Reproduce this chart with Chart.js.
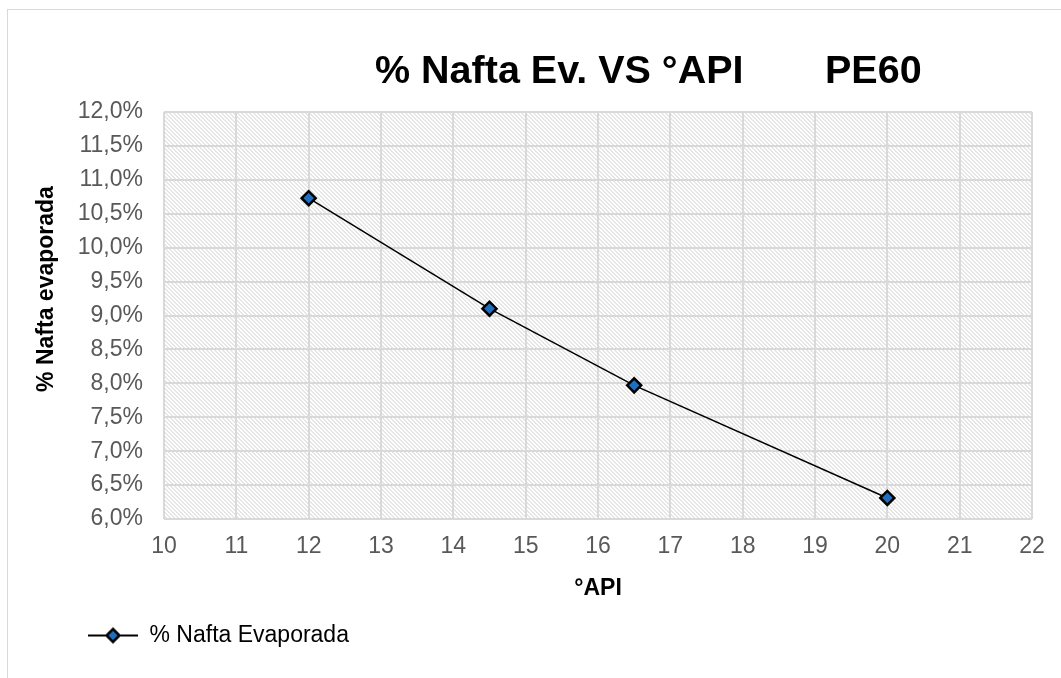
<!DOCTYPE html>
<html><head><meta charset="utf-8">
<script src="https://cdn.jsdelivr.net/npm/chart.js@4.4.0/dist/chart.umd.min.js"></script>
<style>
html,body{margin:0;padding:0;background:#fff;}
#wrap{position:relative;width:1061px;height:678px;}
#frame{position:absolute;left:7px;top:9px;width:1054px;height:669px;border-top:1px solid #d9d9d9;border-left:1px solid #d9d9d9;box-sizing:border-box;pointer-events:none;}
canvas{position:absolute;left:0;top:0;}
</style></head>
<body><div id="wrap"><canvas id="c" width="1061" height="678"></canvas><div id="frame"></div></div>
<script>
const titleMain = "% Nafta Ev. VS °API";
const titleTag = "PE60";
const seriesName = "% Nafta Evaporada";
const xTitle = "°API";
const yTitle = "% Nafta evaporada";
const apiValues = [12, 14.5, 16.5, 20];
const naftaPct = [10.73, 9.10, 7.97, 6.31];
const xMin = 10, xMax = 22, xStep = 1;
const yMin = 6.0, yMax = 12.0, yStep = 0.5;

const FONT = "'Liberation Sans', Arial, sans-serif";
const BLUE = '#1F6FC0';

// hatch pattern
const pc = document.createElement('canvas');
pc.width = 4; pc.height = 4;
const px = pc.getContext('2d');
px.fillStyle = '#ffffff'; px.fillRect(0,0,4,4);
px.fillStyle = '#e6e6e6';
for (let i=0;i<4;i++){ px.fillRect(i,i,1,1); px.fillRect((i+1)%4,i,1,1); }

// legend icon
const ic = document.createElement('canvas');
ic.width = 50; ic.height = 20;
const ix = ic.getContext('2d');
ix.strokeStyle = '#000'; ix.lineWidth = 2;
ix.beginPath(); ix.moveTo(0,10); ix.lineTo(50,10); ix.stroke();
ix.beginPath(); ix.moveTo(25,3.5); ix.lineTo(31.5,10); ix.lineTo(25,16.5); ix.lineTo(18.5,10); ix.closePath();
ix.fillStyle = BLUE; ix.fill(); ix.lineWidth = 2.5; ix.stroke();

const bgPlugin = {
  id: 'bg',
  beforeDraw(chart) {
    const {ctx, chartArea: a} = chart;
    ctx.save();
    ctx.fillStyle = ctx.createPattern(pc, 'repeat');
    ctx.fillRect(a.left, a.top, a.right - a.left, a.bottom - a.top);
    ctx.restore();
  },
  afterLayout(chart) {
    if (chart.legend) chart.legend.left = 70;
  },
  afterDraw(chart) {
    const ctx = chart.ctx;
    ctx.save();
    ctx.font = "bold 39.5px " + FONT;
    ctx.fillStyle = '#000';
    ctx.textBaseline = 'alphabetic';
    ctx.textAlign = 'left';
    ctx.fillText(titleMain, 375, 83);
    ctx.fillText(titleTag, 825, 83);
    ctx.translate(47, 289);
    ctx.rotate(-Math.PI / 2);
    ctx.font = "bold 23px " + FONT;
    ctx.textAlign = 'center';
    ctx.textBaseline = 'middle';
    ctx.fillText(yTitle, 0, 0);
    ctx.restore();
  }
};

new Chart(document.getElementById('c'), {
  type: 'scatter',
  data: {
    datasets: [{
      label: seriesName,
      data: apiValues.map((x, i) => ({x: x, y: naftaPct[i]})),
      showLine: true,
      borderColor: '#000',
      borderWidth: 1.5,
      pointStyle: 'rectRot',
      pointRadius: 7,
      pointHoverRadius: 7,
      pointBackgroundColor: BLUE,
      pointBorderColor: '#000',
      pointBorderWidth: 2.5
    }]
  },
  options: {
    responsive: false,
    animation: false,
    layout: { padding: { left: 20, right: 29, top: 112, bottom: 21 } },
    plugins: {
      tooltip: { enabled: false },
      legend: {
        position: 'bottom',
        align: 'start',
        labels: {
          usePointStyle: true,
          pointStyleWidth: 50,
          padding: 18,
          color: '#000',
          font: { family: FONT, size: 23 },
          generateLabels(chart) {
            return [{ text: seriesName, pointStyle: ic, fillStyle: BLUE, strokeStyle: '#000', lineWidth: 0, datasetIndex: 0, hidden: false }];
          }
        }
      }
    },
    scales: {
      x: {
        type: 'linear',
        min: xMin, max: xMax,
        ticks: { stepSize: xStep, color: '#595959', font: { family: FONT, size: 23 }, padding: 14 },
        grid: { color: '#d9d9d9', lineWidth: 2, drawTicks: false },
        border: { display: false },
        title: { display: true, text: xTitle, color: '#000', font: { family: FONT, size: 23, weight: 'bold' } },
        afterFit(s) { s.height = 87; }
      },
      y: {
        type: 'linear',
        min: yMin, max: yMax,
        ticks: { stepSize: yStep, color: '#595959', font: { family: FONT, size: 23 }, padding: 21,
          callback: v => v.toFixed(1).replace('.', ',') + '%' },
        grid: { color: '#d9d9d9', lineWidth: 2, drawTicks: false },
        border: { display: false },
        title: { display: false, text: yTitle },
        afterFit(s) { s.width = 144; }
      }
    }
  },
  plugins: [bgPlugin]
});
</script>
</body></html>
